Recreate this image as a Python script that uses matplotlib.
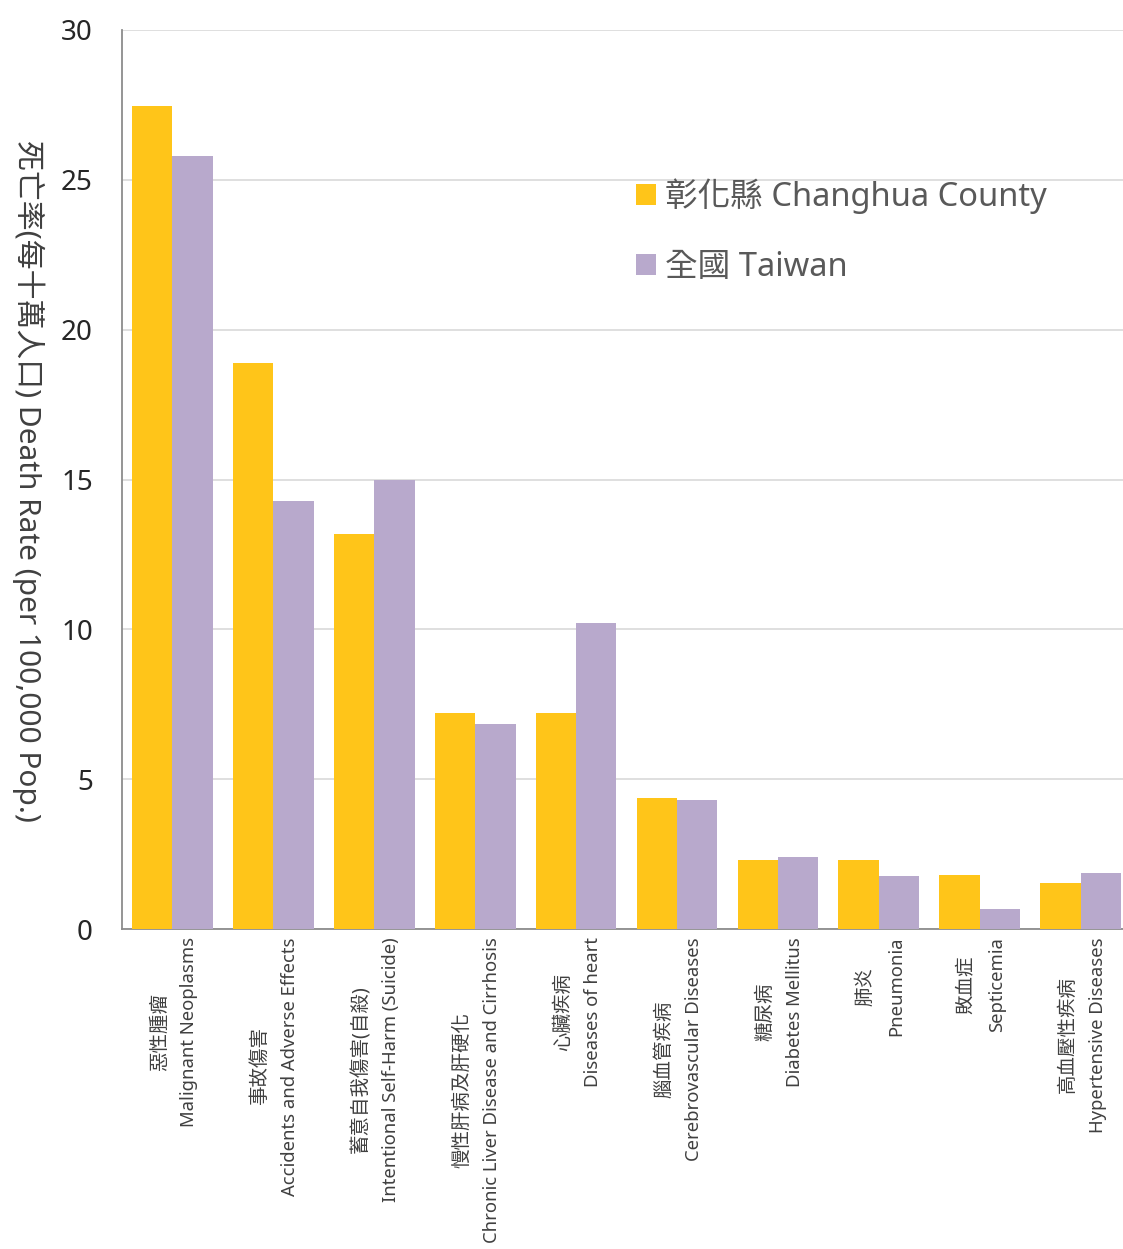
#!/usr/bin/env python3

import numpy as np
import matplotlib
matplotlib.use("Agg")
import matplotlib.pyplot as plt

causes_zh = ["惡性腫瘤", "事故傷害", "蓄意自我傷害(自殺)", "慢性肝病及肝硬化", "心臟疾病",
             "腦血管疾病", "糖尿病", "肺炎", "敗血症", "高血壓性疾病"]
causes_en = ["Malignant Neoplasms", "Accidents and Adverse Effects",
             "Intentional Self-Harm (Suicide)", "Chronic Liver Disease and Cirrhosis",
             "Diseases of heart", "Cerebrovascular Diseases", "Diabetes Mellitus",
             "Pneumonia", "Septicemia", "Hypertensive Diseases"]
changhua = [27.46, 18.89, 13.18, 7.21, 7.21, 4.37, 2.30, 2.30, 1.80, 1.53]
taiwan = [25.79, 14.28, 14.98, 6.84, 10.21, 4.30, 2.40, 1.77, 0.67, 1.87]
series_labels = ["彰化縣 Changhua County", "全國 Taiwan"]
yticks = [0, 5, 10, 15, 20, 25, 30]

FONT = ["Noto Sans", "Noto Sans CJK TC", "DejaVu Sans"]
plt.rcParams["font.family"] = FONT

W, H, DPI = 1123, 1249, 100
fig = plt.figure(figsize=(W / DPI, H / DPI), dpi=DPI)
ax = fig.add_axes([122 / W, 1 - 929 / H, 1 - 122 / W, (929 - 30) / H])

x = np.arange(len(causes_en))
bw = 0.4
ax.bar(x - bw / 2, changhua, bw, color="#FFC519", label=series_labels[0], zorder=3)
ax.bar(x + bw / 2, taiwan, bw, color="#B8A9CC", label=series_labels[1], zorder=3)

ax.set_xlim(-0.5, 9.42)
ax.set_ylim(0, 30)
ax.set_yticks(yticks)
ax.set_yticklabels([str(t) for t in yticks], fontsize=20, color="#262626")
ax.yaxis.grid(True, color="#d9d9d9", lw=1.2, zorder=0)
ax.tick_params(axis="y", length=0, pad=21)
ax.set_xticks([])
for s in ["top", "right"]:
    ax.spines[s].set_visible(False)
ax.spines["left"].set_color("#8c8c8c")
ax.spines["bottom"].set_color("#8c8c8c")
ax.spines["left"].set_linewidth(1.3)
ax.spines["bottom"].set_linewidth(1.3)

# y label reads top to bottom
fig.text(28 / W, 1 - 481 / H, "死亡率(每十萬人口) Death Rate (per 100,000 Pop.)",
         rotation=270, ha="center", va="center", fontsize=21.5, color="#404040")

# two-line category labels: chinese on the left, english on the right, centred
fig.canvas.draw()
renderer = fig.canvas.get_renderer()
top_y = 1 - 937 / H
for i, (zh, en) in enumerate(zip(causes_zh, causes_en)):
    xp = ax.transData.transform((i, 0))[0]
    t_en = fig.text((xp + 17) / W, top_y, en, rotation=90, ha="center", va="top",
                    fontsize=13.3, color="#404040")
    bb = t_en.get_window_extent(renderer)
    yc = (bb.y0 + bb.y1) / 2 / H
    fig.text((xp - 13) / W, yc, zh, rotation=90, ha="center", va="center",
             fontsize=14, color="#404040")

leg = ax.legend(loc="upper left", bbox_to_anchor=(623 / W, 1 - 165 / H),
                bbox_transform=fig.transFigure, frameon=False, fontsize=23.5,
                handlelength=0.6, handleheight=0.6, handletextpad=0.3,
                labelspacing=1.15, borderaxespad=0)
for t in leg.get_texts():
    t.set_color("#595959")

fig.savefig("out.png", dpi=DPI)
